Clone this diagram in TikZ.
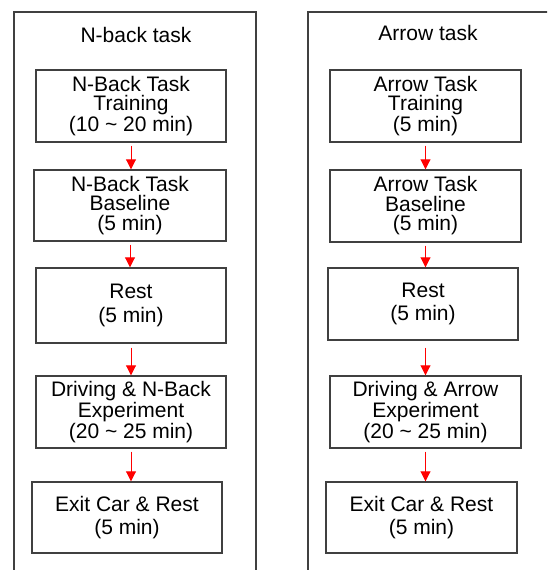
\documentclass[tikz,border=0pt]{standalone}
\usepackage{fontspec}
\setmainfont{Liberation Sans}
\usepackage{tikz}
\usetikzlibrary{arrows.meta, positioning, calc}
\definecolor{framegray}{RGB}{64, 64, 64}
\definecolor{flowred}{RGB}{255, 0, 0}

\tikzset{
  stagebox/.style={draw=framegray, line width=1.4pt, minimum width=190pt, minimum height=72pt, inner sep=0pt, align=center},
  threeline/.style={font=\fontsize{21}{19.5}\selectfont},
  twoline/.style={font=\fontsize{21}{23.5}\selectfont},
  tasktitle/.style={font=\fontsize{21}{24}\selectfont},
  flowarrow/.style={-{Triangle[width=10pt, length=10pt]}, draw=flowred, line width=0.9pt, shorten <=3pt}
}

\begin{document}
\begin{tikzpicture}[x=1pt, y=-1pt]
  \clip (0, 0) rectangle (547, 570);
  \fill[white] (0, 0) rectangle (547, 570);

  % Column frames
  \draw[framegray, line width=1.4pt] (14, 600) -- (14, 12) -- (256, 12) -- (256, 600);
  \draw[framegray, line width=1.4pt] (308, 600) -- (308, 12) -- (600, 12);

  % N-back task
  \node[tasktitle] (ntitle) at (136, 35) {N-back task};
  \node[stagebox, threeline] (ntrain) at (131, 106) {N-Back Task\\Training\\(10 \textasciitilde{} 20 min)};
  \node[stagebox, threeline, minimum width=192pt, minimum height=71pt] (nbase) at (130, 205.5) {N-Back Task\\Baseline\\(5 min)};
  \node[stagebox, twoline, minimum height=75pt] (nrest) at (131, 305.5) {Rest\\(5 min)};
  \node[stagebox, threeline] (ndrive) at (131, 412) {Driving \& N-Back\\Experiment\\(20 \textasciitilde{} 25 min)};
  \node[stagebox, twoline, minimum height=71pt] (nexit) at (127, 517.5) {Exit Car \& Rest\\(5 min)};

  \draw[flowarrow] (ntrain.south) -- (ntrain.south |- nbase.north);
  \draw[flowarrow] (nbase.south) -- (nbase.south |- nrest.north);
  \draw[flowarrow, shorten <=4pt] (nrest.south) -- (nrest.south |- ndrive.north);
  \draw[flowarrow] (ndrive.south) -- (ndrive.south |- nexit.north);

  % Arrow task
  \node[tasktitle] (atitle) at (428, 33) {Arrow task};
  \node[stagebox, threeline, minimum width=191pt] (atrain) at (425.5, 106) {Arrow Task\\Training\\(5 min)};
  \node[stagebox, threeline, minimum width=191pt] (abase) at (425.5, 206) {Arrow Task\\Baseline\\(5 min)};
  \node[stagebox, twoline] (arest) at (423, 304) {Rest\\(5 min)};
  \node[stagebox, threeline, minimum width=191pt] (adrive) at (425.5, 412) {Driving \& Arrow\\Experiment\\(20 \textasciitilde{} 25 min)};
  \node[stagebox, twoline, minimum width=191pt, minimum height=71pt] (aexit) at (421.5, 517.5) {Exit Car \& Rest\\(5 min)};

  \draw[flowarrow] (atrain.south) -- (atrain.south |- abase.north);
  \draw[flowarrow] (abase.south) -- (abase.south |- arest.north);
  \draw[flowarrow, shorten <=7pt] (adrive.north |- arest.south) -- (adrive.north);
  \draw[flowarrow] (adrive.south) -- (adrive.south |- aexit.north);
\end{tikzpicture}
\end{document}
